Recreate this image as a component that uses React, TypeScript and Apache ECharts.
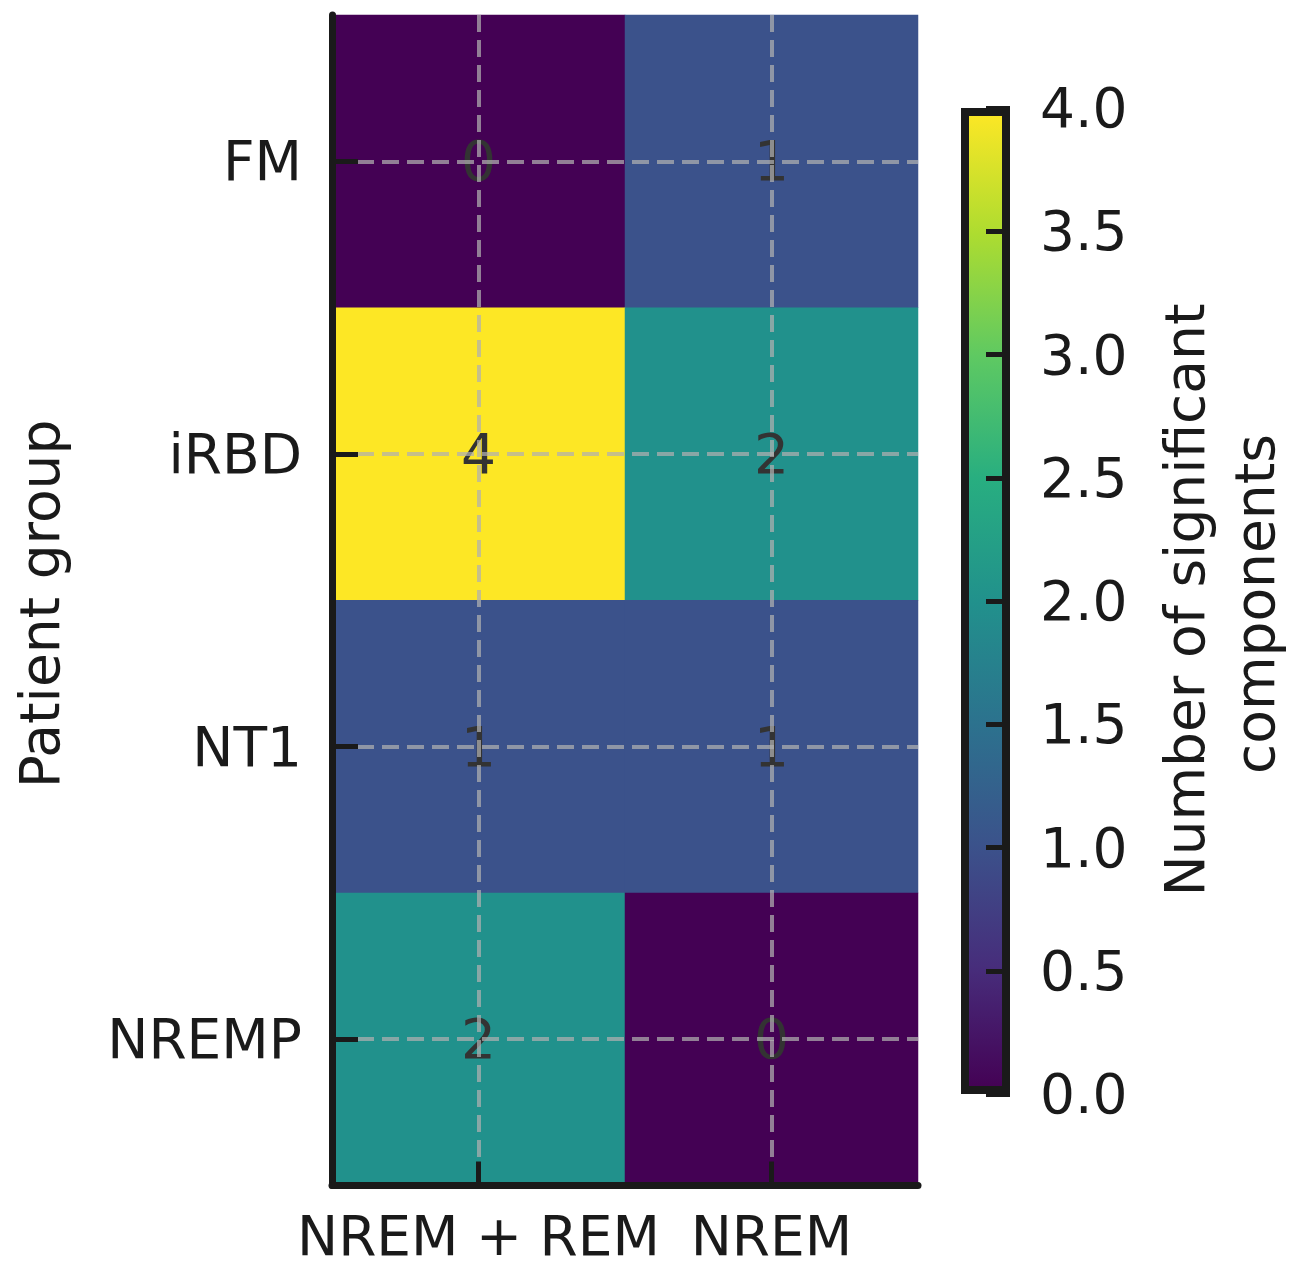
import React, { useEffect, useRef } from "react";
import * as echarts from "echarts";

const stages = ["NREM + REM", "NREM"];
const groups = ["FM", "iRBD", "NT1", "NREMP"];
// values[groupIndex] = [NREM + REM, NREM]
const values = [
  [0, 1],
  [4, 2],
  [1, 1],
  [2, 0],
];
const viridis = [
  "#440154",
  "#472d7b",
  "#3b528b",
  "#2c728e",
  "#21918c",
  "#28ae80",
  "#5ec962",
  "#addc30",
  "#fde725",
];
const colorbarMin = 0;
const colorbarMax = 4;
const colorbarInterval = 0.5;

const FONT = "DejaVu Sans";
const INK = "#1a1a1a";

export default function App() {
  const ref = useRef<HTMLDivElement>(null);
  useEffect(() => {
    if (!ref.current) return;
    const chart = echarts.init(ref.current, null, { renderer: "svg" });
    const data: any[] = [];
    groups.forEach((g, gi) => {
      stages.forEach((s, si) => {
        data.push([si, gi, values[gi][si]]);
      });
    });
    const gridLineStyle = {
      color: "rgba(176,176,176,0.72)",
      width: 4,
      type: [17, 8] as any,
    };
    const option: any = {
      animation: false,
      textStyle: { fontFamily: FONT },
      grid: [
        { left: 332, top: 15, width: 586, height: 1173, containLabel: false },
        { left: 961, top: 108, width: 49, height: 986, containLabel: false },
      ],
      xAxis: [
        {
          type: "category",
          gridIndex: 0,
          data: stages,
          z: 10,
          axisLine: { show: true, lineStyle: { color: INK, width: 7 } },
          axisTick: {
            show: true,
            inside: true,
            alignWithLabel: true,
            interval: 0,
            length: 24,
            lineStyle: { color: INK, width: 5 },
          },
          axisLabel: {
            fontSize: 55,
            lineHeight: 52,
            color: INK,
            margin: 24,
            fontFamily: FONT,
            interval: 0,
            hideOverlap: false,
          },
          splitLine: { show: false },
        },
        {
          type: "category",
          gridIndex: 1,
          data: ["cb"],
          show: false,
        },
      ],
      yAxis: [
        {
          type: "category",
          gridIndex: 0,
          data: groups,
          inverse: true,
          z: 10,
          axisLine: { show: true, lineStyle: { color: INK, width: 7 } },
          axisTick: {
            show: true,
            inside: true,
            alignWithLabel: true,
            interval: 0,
            length: 26,
            lineStyle: { color: INK, width: 5 },
          },
          axisLabel: { fontSize: 55, color: INK, margin: 30, fontFamily: FONT, interval: 0 },
          splitLine: { show: false },
        },
        {
          type: "value",
          gridIndex: 1,
          position: "right",
          min: colorbarMin,
          max: colorbarMax,
          interval: colorbarInterval,
          z: 10,
          axisLine: { show: false },
          axisTick: {
            show: true,
            inside: true,
            length: 24,
            lineStyle: { color: INK, width: 5 },
          },
          axisLabel: {
            fontSize: 55,
            color: INK,
            margin: 30,
            fontFamily: FONT,
            formatter: (v: number) => v.toFixed(1),
          },
          splitLine: { show: false },
        },
      ],
      visualMap: {
        type: "continuous",
        show: false,
        min: colorbarMin,
        max: colorbarMax,
        seriesIndex: 0,
        inRange: { color: viridis },
      },
      series: [
        {
          type: "heatmap",
          xAxisIndex: 0,
          yAxisIndex: 0,
          data,
          label: {
            show: true,
            fontSize: 55,
            color: "#333333",
            fontFamily: FONT,
          },
          itemStyle: { borderWidth: 0 },
          markLine: {
            silent: true,
            symbol: "none",
            label: { show: false },
            lineStyle: gridLineStyle,
            data: [
              ...stages.map((s) => ({ xAxis: s })),
              ...groups.map((g) => ({ yAxis: g })),
            ],
          },
        },
        {
          type: "bar",
          xAxisIndex: 1,
          yAxisIndex: 1,
          data: [colorbarMax],
          barWidth: "100%",
          silent: true,
          itemStyle: {
            color: new echarts.graphic.LinearGradient(
              0,
              1,
              0,
              0,
              viridis.map((c, i) => ({ offset: i / (viridis.length - 1), color: c }))
            ),
            borderColor: INK,
            borderWidth: 8,
          },
        },
      ],
      graphic: [
        {
          type: "text",
          x: 40,
          y: 604,
          rotation: Math.PI / 2,
          style: {
            text: "Patient group",
            fontSize: 55,
            fontFamily: FONT,
            fill: INK,
            textAlign: "center",
            textVerticalAlign: "middle",
          },
        },
        {
          type: "text",
          x: 1185,
          y: 600,
          rotation: Math.PI / 2,
          style: {
            text: "Number of significant",
            fontSize: 55,
            fontFamily: FONT,
            fill: INK,
            textAlign: "center",
            textVerticalAlign: "middle",
          },
        },
        {
          type: "text",
          x: 1255,
          y: 604,
          rotation: Math.PI / 2,
          style: {
            text: "components",
            fontSize: 55,
            fontFamily: FONT,
            fill: INK,
            textAlign: "center",
            textVerticalAlign: "middle",
          },
        },
      ],
    };
    chart.setOption(option);
    return () => chart.dispose();
  }, []);
  return (
    <div
      ref={ref}
      style={{ position: "absolute", left: 0, top: 0, width: 1292, height: 1263, background: "#fff" }}
    />
  );
}
